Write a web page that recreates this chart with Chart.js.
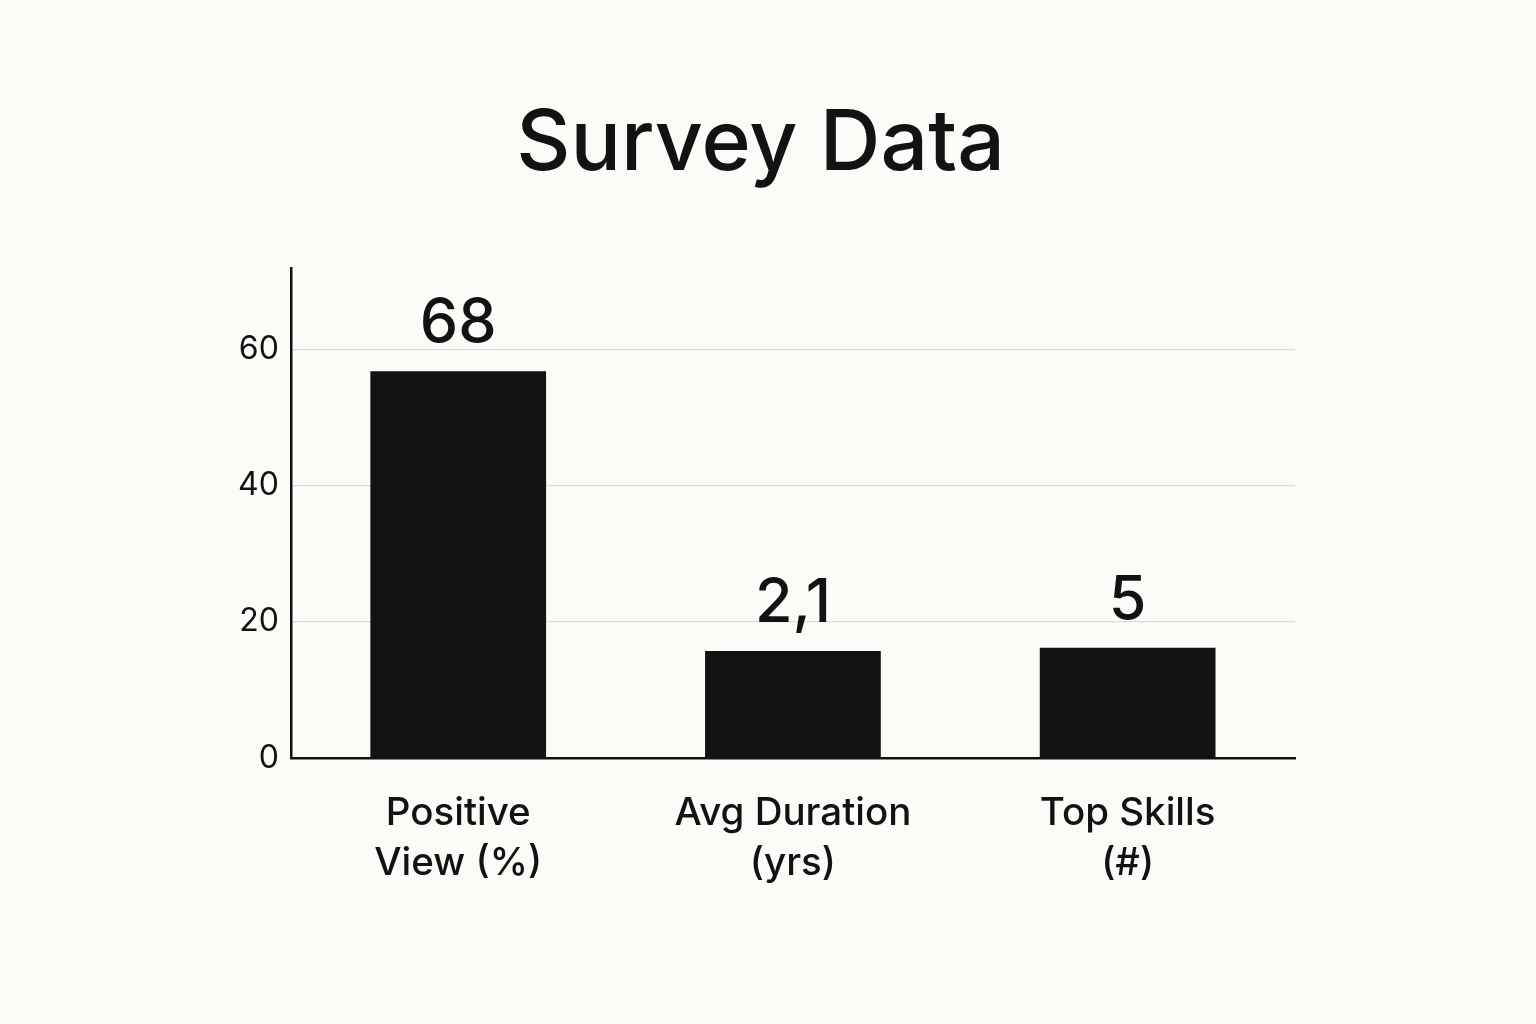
<!DOCTYPE html>
<html>
<head>
<meta charset="utf-8">
<script src="https://cdn.jsdelivr.net/npm/chart.js@4/dist/chart.umd.min.js"></script>
<style>
  html, body { margin: 0; padding: 0; background: #fbfbf8; }
  canvas { display: block; }
</style>
</head>
<body>
<canvas id="myChart" width="1536" height="1024"></canvas>
<script>
const categories = [["Positive", "View (%)"], ["Avg Duration", "(yrs)"], ["Top Skills", "(#)"]];
const barHeights = [56.8, 15.7, 16.2];   // bar heights as drawn against the axis
const shownLabels = ["68", "2,1", "5"];  // numbers printed above the bars
const yTicks = [0, 20, 40, 60];

const ink = "#111214";
const fontFamily = "Inter, 'Noto Sans', sans-serif";

const valueLabels = {
  id: "valueLabels",
  afterDatasetsDraw(chart) {
    const ctx = chart.ctx;
    const meta = chart.getDatasetMeta(0);
    ctx.save();
    ctx.fillStyle = ink;
    ctx.font = "500 61px " + fontFamily;
    ctx.textAlign = "center";
    ctx.textBaseline = "alphabetic";
    meta.data.forEach((bar, i) => {
      ctx.fillText(shownLabels[i], bar.x, bar.y - 29);
    });
    ctx.restore();
  },
};

const myChart = document.getElementById("myChart");

new Chart(myChart, {
  type: "bar",
  data: {
    labels: categories,
    datasets: [
      {
        data: barHeights,
        backgroundColor: ink,
        borderWidth: 0,
        categoryPercentage: 1,
        barPercentage: 0.525,
      },
    ],
  },
  options: {
    responsive: false,
    animation: false,
    devicePixelRatio: 1,
    layout: { padding: { left: 226, right: 241, top: 0, bottom: 106 } },
    plugins: {
      legend: { display: false },
      tooltip: { enabled: false },
      title: {
        display: true,
        text: "Survey Data",
        color: ink,
        font: { family: fontFamily, size: 84, weight: "500" },
        padding: { top: 94, bottom: 73 },
      },
    },
    scales: {
      x: {
        grid: { display: false, drawTicks: false },
        border: { color: ink, width: 2.5 },
        ticks: {
          color: ink,
          padding: 30,
          font: { family: fontFamily, size: 38.5, weight: "500", lineHeight: 1.3 },
          maxRotation: 0,
        },
      },
      y: {
        min: 0,
        max: 72,
        grid: {
          color: (c) => (c.tick && c.tick.value === 0 ? "rgba(0,0,0,0)" : "#dcdcdc"),
          lineWidth: 1.2,
          drawTicks: false,
        },
        border: { color: ink, width: 2.5 },
        afterBuildTicks: (scale) => {
          scale.ticks = yTicks.map((v) => ({ value: v }));
        },
        ticks: {
          color: ink,
          padding: 12,
          font: { family: fontFamily, size: 32, weight: "400" },
        },
      },
    },
  },
  plugins: [valueLabels],
});
</script>
</body>
</html>
